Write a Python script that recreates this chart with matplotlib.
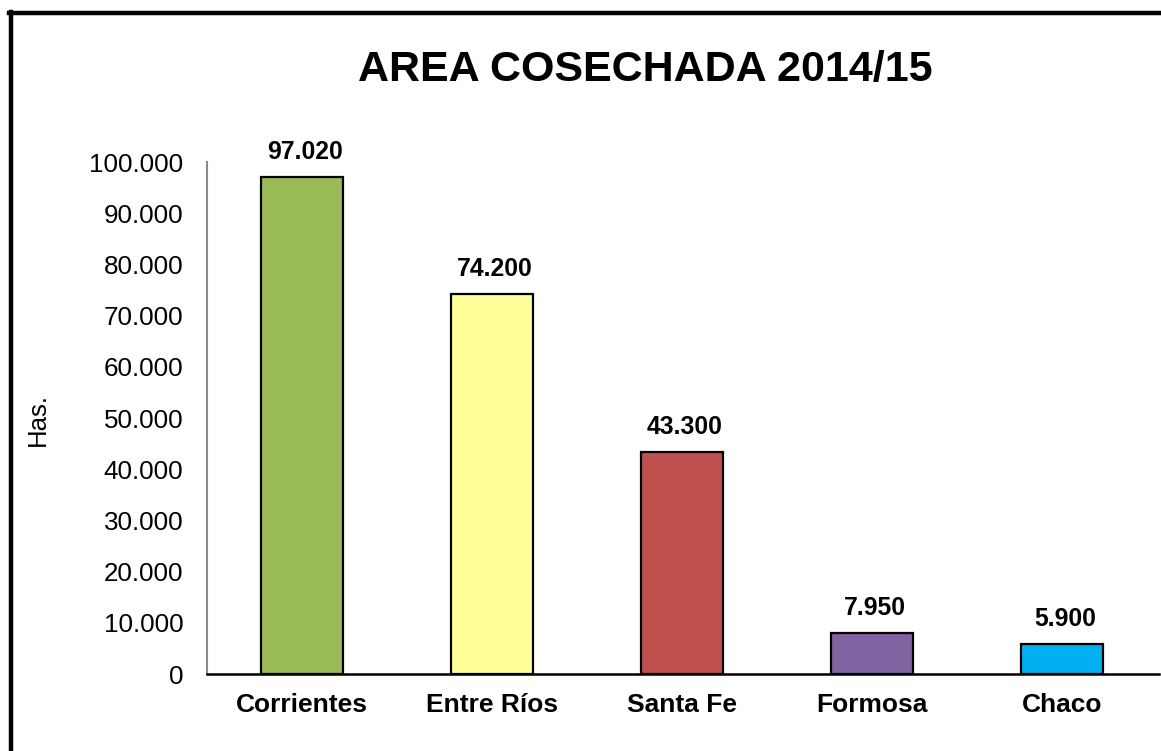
import matplotlib
matplotlib.use("Agg")
import matplotlib.pyplot as plt
from matplotlib.lines import Line2D
from matplotlib.ticker import FuncFormatter

categories = ["Corrientes", "Entre Ríos", "Santa Fe", "Formosa", "Chaco"]
values = [97020, 74200, 43300, 7950, 5900]
colors = ["#9BBB59", "#FFFF99", "#C0504D", "#8064A2", "#00B0F0"]
yticks = [0, 10000, 20000, 30000, 40000, 50000, 60000, 70000, 80000, 90000, 100000]
title = "AREA COSECHADA 2014/15"
ylabel = "Has."

plt.rcParams['font.family'] = ['Liberation Sans', 'DejaVu Sans']

def fmt(v):
    return f"{int(v):,}".replace(",", ".")

fig = plt.figure(figsize=(11.61, 7.51), dpi=100)
ax = fig.add_axes([207/1161, 77/751, 952/1161, 512/751])

x = list(range(len(categories)))
ax.bar(x, values, width=0.43, color=colors, edgecolor="black", linewidth=1.6, zorder=3)
ax.set_xlim(-0.5, len(categories) - 0.49)
ax.set_ylim(0, 100000)
ax.set_yticks(yticks)
ax.yaxis.set_major_formatter(FuncFormatter(lambda v, p: fmt(v)))
ax.set_xticks(x)
ax.set_xticklabels(categories, fontsize=19, fontweight="bold")
ax.tick_params(axis="y", length=0, labelsize=18.7, pad=17)
ax.tick_params(axis="x", length=0, pad=14)

for s in ["top", "right"]:
    ax.spines[s].set_visible(False)
ax.spines["left"].set_color("#8c8c8c")
ax.spines["left"].set_linewidth(1.5)
ax.spines["bottom"].set_color("black")
ax.spines["bottom"].set_linewidth(1.8)
ax.spines["bottom"].set_zorder(4)

for xi, v in zip(x, values):
    ax.annotate(fmt(v), (xi, v), xytext=(2, 18), textcoords="offset points",
                ha="center", va="center", fontsize=17.8, fontweight="bold")

fig.text(38/1161, 1 - 420/751, ylabel, rotation=90, ha="center", va="center", fontsize=18.5)

fig.text(645/1161, 1 - 70/751, title, ha="center", va="center", fontsize=31, fontweight="bold")

# figure frame (left and top edges visible)
fig.add_artist(Line2D([11/1161, 11/1161], [0, 1 - 12/751], transform=fig.transFigure, color="black", linewidth=3.2))
fig.add_artist(Line2D([9/1161, 1], [1 - 12.5/751, 1 - 12.5/751], transform=fig.transFigure, color="black", linewidth=3.2))

fig.savefig("out.png", dpi=100)
